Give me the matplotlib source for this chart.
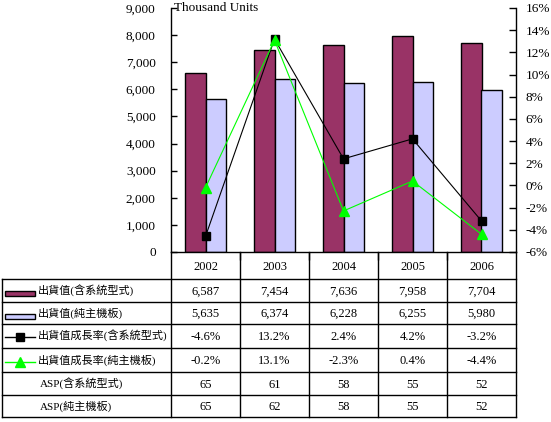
import matplotlib
matplotlib.use("Agg")
import matplotlib.pyplot as plt
from matplotlib.patches import Rectangle
from matplotlib.lines import Line2D

years = ["2002", "2003", "2004", "2005", "2006"]
ship_sys = [6587, 7454, 7636, 7958, 7704]
ship_mb = [5635, 6374, 6228, 6255, 5980]
growth_sys = [-4.6, 13.2, 2.4, 4.2, -3.2]
growth_mb = [-0.2, 13.1, -2.3, 0.4, -4.4]
asp_sys = [65, 61, 58, 55, 52]
asp_mb = [65, 62, 58, 55, 52]
row_labels = ["出貨值(含系統型式)", "出貨值(純主機板)", "出貨值成長率(含系統型式)",
              "出貨值成長率(純主機板)", "ASP(含系統型式)", "ASP(純主機板)"]
left_ticks = [0, 1000, 2000, 3000, 4000, 5000, 6000, 7000, 8000, 9000]
right_ticks = [-6, -4, -2, 0, 2, 4, 6, 8, 10, 12, 14, 16]

C_SYS = "#993366"
C_MB = "#CCCCFF"
C_G = "#00FF00"
SERIF = ["Liberation Serif", "Noto Sans CJK TC"]

W, H = 551, 422
fig = plt.figure(figsize=(W / 100, H / 100), dpi=100)

# pixel geometry
x0, x1 = 171, 516
y_top, y_bot = 8, 252

ax = fig.add_axes([x0 / W, 1 - y_bot / H, (x1 - x0) / W, (y_bot - y_top) / H])
n = len(years)
xs = list(range(n))
bw = 0.29
ax.bar([x - bw / 2 for x in xs], ship_sys, width=bw, color=C_SYS, edgecolor="black", linewidth=1, zorder=2)
ax.bar([x + bw / 2 for x in xs], ship_mb, width=bw, color=C_MB, edgecolor="black", linewidth=1, zorder=2)
ax.set_xlim(-0.5, n - 0.5)
ax.set_ylim(0, 9000)
ax.set_yticks(left_ticks)
ax.set_yticklabels([f"{v:,}" for v in left_ticks], family=SERIF, fontsize=9.5)
ax.tick_params(axis="y", direction="in", length=4, width=1, pad=11)
ax.set_xticks([x + 0.5 for x in xs[:-1]])
ax.set_xticklabels([])
ax.tick_params(axis="x", direction="out", length=6, width=1)
for s in ["top", "right"]:
    ax.spines[s].set_visible(False)
ax.spines["left"].set_linewidth(1)
ax.spines["bottom"].set_linewidth(1)
ax.text(0.008, 1.0, "Thousand Units", transform=ax.transAxes, family=SERIF,
        fontsize=9.5, ha="left", va="center")

ax2 = ax.twinx()
ax2.set_ylim(-6, 16)
ax2.set_yticks(right_ticks)
ax2.set_yticklabels([f"{v}%" for v in right_ticks], family=SERIF, fontsize=9.5)
ax2.tick_params(axis="y", direction="in", length=5, width=1, pad=7)
for s in ["top", "left", "bottom"]:
    ax2.spines[s].set_visible(False)
ax2.spines["right"].set_linewidth(1)
ax2.plot(xs, growth_sys, color="black", linewidth=0.8, marker="s", markersize=5.5,
         markerfacecolor="black", markeredgecolor="black", zorder=3)
ax2.plot(xs, growth_mb, color=C_G, linewidth=0.8, marker="^", markersize=6.5,
         markerfacecolor=C_G, markeredgecolor=C_G, zorder=4)

# table overlay in pixel coordinates
tab = fig.add_axes([0, 0, 1, 1], facecolor="none")
tab.set_xlim(0, W)
tab.set_ylim(H, 0)
tab.axis("off")

col_x = [x0 + i * (x1 - x0) / n for i in range(n + 1)]
row_y = [252, 279, 302, 324, 348, 372, 395, 417]
lw = 1
for cx in col_x:
    tab.plot([cx, cx], [row_y[0], row_y[-1]], color="black", lw=lw)
for ry in row_y[1:]:
    tab.plot([2, x1], [ry, ry], color="black", lw=lw)
tab.plot([2, 2], [row_y[1], row_y[-1]], color="black", lw=lw)

for i, yv in enumerate(years):
    tab.text((col_x[i] + col_x[i + 1]) / 2, (row_y[0] + row_y[1]) / 2 + 1, yv,
             family=SERIF, fontsize=9, ha="center", va="center")

rows = [
    [f"{v:,}" for v in ship_sys],
    [f"{v:,}" for v in ship_mb],
    [f"{v:.1f}%" for v in growth_sys],
    [f"{v:.1f}%" for v in growth_mb],
    [str(v) for v in asp_sys],
    [str(v) for v in asp_mb],
]
for r, vals in enumerate(rows):
    cy = (row_y[r + 1] + row_y[r + 2]) / 2 + 1
    for i, t in enumerate(vals):
        tab.text((col_x[i] + col_x[i + 1]) / 2, cy, t, family=SERIF, fontsize=9,
                 ha="center", va="center")
    lx = 37.5 if r < 4 else 40
    tab.text(lx, cy - 1, row_labels[r], family=SERIF, fontsize=8, ha="left", va="center")

# legend keys
cy = (row_y[1] + row_y[2]) / 2
tab.add_patch(Rectangle((5, cy + 0.5), 30, 5, facecolor=C_SYS, edgecolor="black", lw=1))
cy = (row_y[2] + row_y[3]) / 2
tab.add_patch(Rectangle((5, cy + 0.5), 30, 5, facecolor=C_MB, edgecolor="black", lw=1))
cy = (row_y[3] + row_y[4]) / 2 + 1
tab.add_line(Line2D([5, 35], [cy, cy], color="black", lw=1))
tab.add_line(Line2D([20], [cy], marker="s", markersize=5.5, color="black"))
cy = (row_y[4] + row_y[5]) / 2 + 2
tab.add_line(Line2D([5, 35], [cy, cy], color=C_G, lw=1))
tab.add_line(Line2D([20], [cy], marker="^", markersize=6.5, color=C_G))

fig.savefig("out.png", dpi=100)
